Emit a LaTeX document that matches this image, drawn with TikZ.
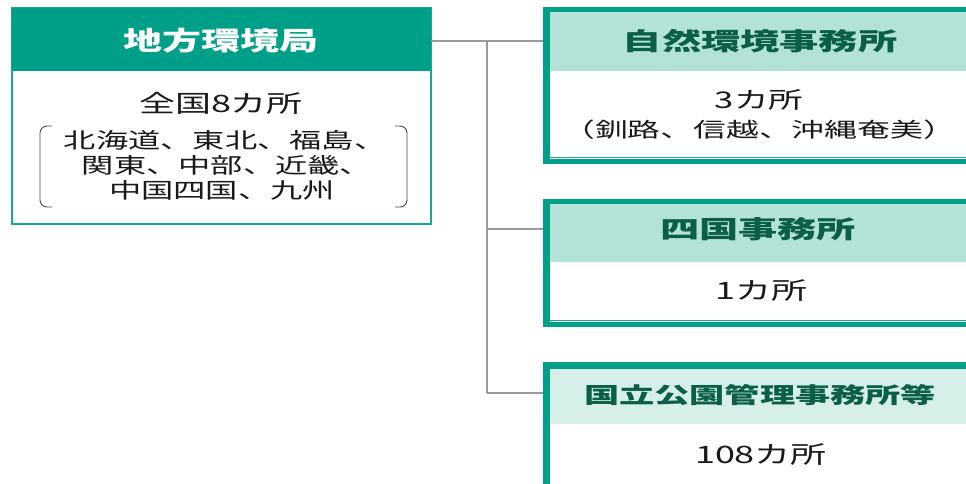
\documentclass[tikz,border=0pt]{standalone}
\usepackage{fontspec}
\newfontfamily\jpb[FakeStretch=1.5]{Noto Sans CJK JP}
\newfontfamily\jph[FakeStretch=1.6]{Noto Sans CJK JP}
\definecolor{teal1}{HTML}{00A088}
\definecolor{teal2}{HTML}{1AA890}
\definecolor{lighthead}{HTML}{B3E3D7}
\definecolor{lighthead2}{HTML}{D6F0E9}
\definecolor{headtxt}{HTML}{0B5E48}
\definecolor{conn}{HTML}{9A9A9A}
\definecolor{txt}{HTML}{1A1A1A}
\tikzset{
  box/.style={rectangle, inner sep=0pt, outer sep=0pt},
  bodytxt/.style={text=txt, font=\jpb\fontsize{24}{28}\selectfont, inner sep=0pt},
  listtxt/.style={text=txt, font=\jpb\fontsize{21.5}{25}\selectfont, inner sep=0pt},
  rhead/.style={text=headtxt, font=\jph\bfseries\fontsize{24.5}{28}\selectfont, inner sep=0pt},
  link/.style={draw=conn, line width=1.5pt},
  trunk/.style={draw=conn, line width=2.5pt},
  brk/.style={draw=txt!80, line width=0.9pt, rounded corners=7pt},
}
\begin{document}
\begin{tikzpicture}[x=1pt,y=-1pt]
\useasboundingbox (0,0) rectangle (966,484);
\fill[white] (0,0) rectangle (966,484);
% left box
\node[box, draw=teal2, line width=2pt, fill=white, minimum width=419pt, minimum height=216pt] (lb) at (221.5,116) {};
\node[box, fill=teal1, minimum width=419pt, minimum height=63pt] (lbh) at (221.5,40) {};
\node[text=white, font=\jpb\bfseries\fontsize{26}{30}\selectfont, inner sep=0pt] (lbt) at (221,41) {地方環境局};
\node[bodytxt] (lb1) at (221,103) {全国8カ所};
\node[listtxt] (lb2) at (225,140) {北海道、東北、福島、};
\node[listtxt] (lb3) at (227,165) {関東、中部、近畿、};
\node[listtxt] (lb4) at (222,190) {中国四国、九州};
\draw[brk] (52,126) -- (40,126) -- (40,207) -- (52,207);
\draw[brk] (395,126) -- (407,126) -- (407,207) -- (395,207);
% right box 1
\node[box, fill=teal1, minimum width=437pt, minimum height=157pt] (rb1) at (761.5,85.5) {};
\node[box, fill=lighthead, minimum width=430pt, minimum height=59pt] (rb1h) at (765,41.5) {};
\node[box, fill=white, minimum width=430pt, minimum height=88pt] (rb1b) at (765,115) {};
\draw[teal2, line width=0.8pt] (rb1b.south west) ++(0,-2) -- ++(430,0);
\node[rhead] (rb1t) at (760,41) {自然環境事務所};
\node[bodytxt, font=\jpb\fontsize{23}{27}\selectfont] (rb1x) at (759,100) {3カ所};
\node[listtxt, font=\jph\fontsize{20.5}{24}\selectfont] (rb1y) at (759,130) {（釧路、信越、沖縄奄美）};
% right box 2
\node[box, fill=teal1, minimum width=437pt, minimum height=128pt] (rb2) at (761.5,263) {};
\node[box, fill=lighthead, minimum width=430pt, minimum height=58pt] (rb2h) at (765,233) {};
\node[box, fill=white, minimum width=430pt, minimum height=60pt] (rb2b) at (765,292) {};
\draw[teal2, line width=0.8pt] (rb2b.south west) ++(0,-2) -- ++(430,0);
\node[rhead] (rb2t) at (758,229) {四国事務所};
\node[bodytxt] (rb2x) at (761,291) {1カ所};
% right box 3
\node[box, fill=teal1, minimum width=437pt, minimum height=130pt] (rb3) at (761.5,427) {};
\node[box, fill=lighthead2, minimum width=430pt, minimum height=55pt] (rb3h) at (765,396.5) {};
\node[box, fill=white, minimum width=430pt, minimum height=70pt] (rb3b) at (765,459) {};
\node[rhead, font=\jph\bfseries\fontsize{22}{26}\selectfont] (rb3t) at (760,395) {国立公園管理事務所等};
\node[bodytxt] (rb3x) at (761,455) {108カ所};
% connectors
\coordinate (tr) at (487,41);
\coordinate (j3) at (487,393);
\draw[link] (lbt.east -| lbh.east) coordinate (s0) -- (s0 -| rb1.west);
\draw[trunk] (tr) -- (j3);
\draw[link] (tr |- rb2t) -- (rb2t -| rb2.west);
\draw[link] (j3) -- (j3 -| rb3.west);
\end{tikzpicture}
\end{document}
